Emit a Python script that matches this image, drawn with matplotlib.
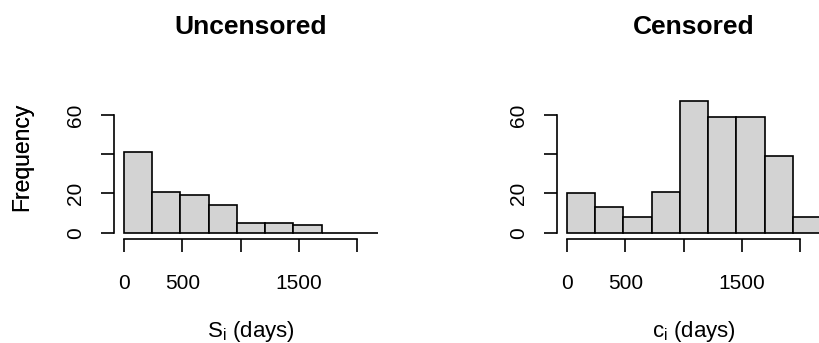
import matplotlib
matplotlib.use("Agg")
import matplotlib.pyplot as plt
import numpy as np

plt.rcParams['font.family'] = ['Liberation Sans', 'DejaVu Sans']
plt.rcParams['mathtext.fontset'] = 'custom'
plt.rcParams['mathtext.rm'] = 'Liberation Sans'

# bin edges (days)
bin_edges = [0, 242, 484, 726, 968, 1210, 1452, 1694, 1936, 2178]
uncensored_counts = [41, 21, 19, 14, 5, 5, 4, 0, 0]
censored_counts = [20, 13, 8, 21, 67, 59, 59, 39, 8]

x_ticks = [0, 500, 1000, 1500, 2000]
x_ticklabels = ['0', '500', '', '1500', '']
y_ticks = [0, 20, 40, 60]
y_ticklabels = ['0', '20', '', '60']

titles = ['Uncensored', 'Censored']
xlabels = [r'S$_{\mathregular{i}}$ (days)', r'c$_{\mathregular{i}}$ (days)']

W, H = 819, 343
fig = plt.figure(figsize=(W / 100, H / 100), dpi=100)

def px_axes(x0, ytop, w, h):
    return fig.add_axes([x0 / W, 1 - (ytop + h) / H, w / W, h / H])

ax_w, ax_top, ax_h = 274.3, 69.5, 169.5
lefts = [113.8, 556.8]
LW = 1.2

for i, counts in enumerate([uncensored_counts, censored_counts]):
    ax = px_axes(lefts[i], ax_top, ax_w, ax_h)
    edges = np.array(bin_edges, dtype=float)
    widths = np.diff(edges)
    ax.bar(edges[:-1], counts, width=widths, align='edge',
           color='#D3D3D3', edgecolor='black', linewidth=LW, clip_on=False)
    span = edges[-1] - edges[0]
    ax.set_xlim(edges[0] - 0.04 * span, edges[-1] + 0.04 * span)
    ax.set_ylim(-0.04 * 80, 80 * 1.04)
    for s in ['top', 'right']:
        ax.spines[s].set_visible(False)
    ax.spines['left'].set_bounds(0, 60)
    ax.spines['bottom'].set_bounds(0, 2000)
    for s in ['left', 'bottom']:
        ax.spines[s].set_linewidth(LW)
    ax.set_xticks(x_ticks)
    ax.set_xticklabels(x_ticklabels, fontsize=15)
    ax.set_yticks(y_ticks)
    ax.set_yticklabels(y_ticklabels, fontsize=15, rotation=90, va='center')
    ax.tick_params(axis='both', length=9.4, width=LW, direction='out')
    ax.tick_params(axis='x', pad=15.5)
    ax.tick_params(axis='y', pad=11)
    ax.set_ylabel('Frequency', fontsize=16.5)
    ax.yaxis.set_label_coords((33 - lefts[i]) / ax_w, 0.485)
    ax.set_xlabel(xlabels[i], fontsize=16)
    ax.xaxis.label.set_va('baseline')
    ax.xaxis.set_label_coords(0.5, (239 - 337.5) / ax_h)
    ax.text(0.5, (239 - 34) / ax_h, titles[i], transform=ax.transAxes,
            ha='center', va='baseline', fontsize=19, fontweight='bold')
    ax.patch.set_visible(False)

fig.savefig('out.png', dpi=100)
